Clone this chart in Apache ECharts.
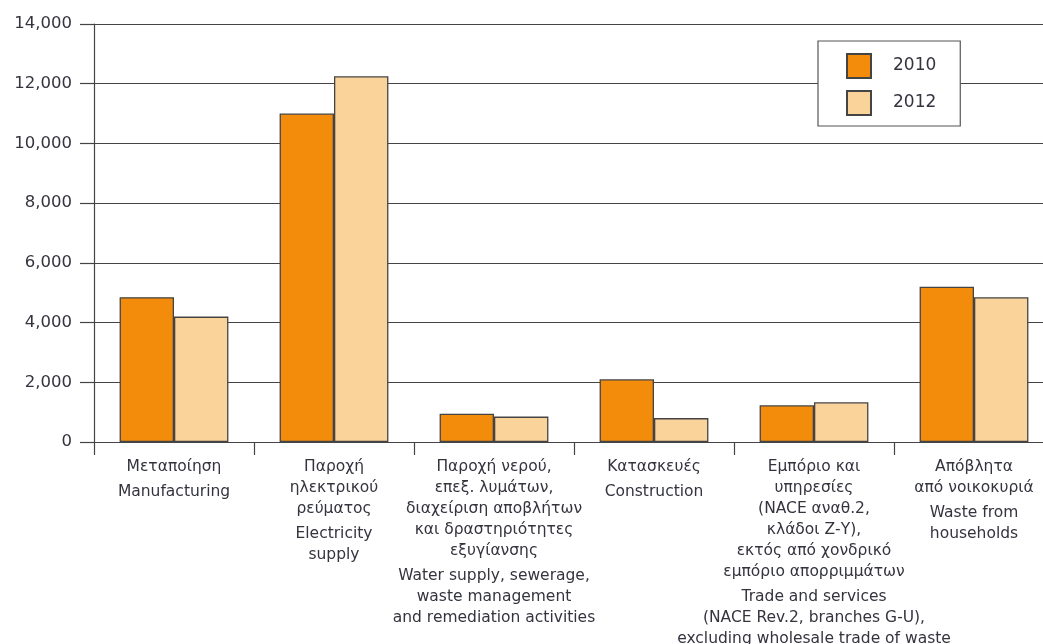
<!DOCTYPE html>
<html>
<head>
<meta charset="utf-8">
<script src="https://cdn.jsdelivr.net/npm/echarts@6/dist/echarts.min.js"></script>
<style>
    html, body { margin: 0; padding: 0; background: #fff; }
    #show { width: 1043px; height: 644px; }
</style>
</head>
<body>
<div id="show"></div>
<script>
    // κατηγορίες (ελληνικά / αγγλικά)
    var catsEl = [
        'Μεταποίηση',
        'Παροχή\nηλεκτρικού\nρεύματος',
        'Παροχή νερού,\nεπεξ. λυμάτων,\nδιαχείριση αποβλήτων\nκαι δραστηριότητες\nεξυγίανσης',
        'Κατασκευές',
        'Εμπόριο και\nυπηρεσίες\n(NACE αναθ.2,\nκλάδοι Ζ-Υ),\nεκτός από χονδρικό\nεμπόριο απορριμμάτων',
        'Απόβλητα\nαπό νοικοκυριά'
    ];
    var catsEn = [
        'Manufacturing',
        'Electricity\nsupply',
        'Water supply, sewerage,\nwaste management\nand remediation activities',
        'Construction',
        'Trade and services\n(NACE Rev.2, branches G-U),\nexcluding wholesale trade of waste',
        'Waste from\nhouseholds'
    ];
    var v2010 = [4850, 11000, 950, 2100, 1230, 5200];
    var v2012 = [4200, 12250, 850, 800, 1330, 4850];

    var txt = '#34343f';
    var myChart = echarts.init(document.getElementById('show'));

    var option = {
        animation: false,
        textStyle: { fontFamily: 'DejaVu Sans, sans-serif' },
        grid: { left: 94, top: 24, width: 960, bottom: 202, containLabel: false, outerBoundsMode: 'none' },
        legend: {
            orient: 'vertical',
            left: 818,
            top: 41,
            padding: [12, 24, 10, 28],
            itemWidth: 24,
            itemHeight: 24,
            itemGap: 11,
            backgroundColor: '#fff',
            borderColor: '#555',
            borderWidth: 1.2,
            icon: 'rect',
            textStyle: { fontSize: 17, color: txt, padding: [0, 0, 0, 17] },
            data: ['2010', '2012']
        },
        xAxis: {
            type: 'category',
            data: catsEn,
            axisLine: { lineStyle: { color: '#444', width: 1.2 } },
            axisTick: { show: true, length: 13, lineStyle: { color: '#444', width: 1.2 } },
            axisLabel: {
                interval: 0,
                margin: 14,
                color: txt,
                formatter: function (value, idx) {
                    return '{a|' + catsEl[idx] + '}\n{g| }\n{a|' + catsEn[idx] + '}';
                },
                rich: {
                    a: { fontSize: 15.5, lineHeight: 21, color: txt, align: 'center' },
                    g: { fontSize: 4, lineHeight: 4 }
                }
            }
        },
        yAxis: {
            type: 'value',
            min: 0,
            max: 14000,
            interval: 2000,
            axisLine: { show: true, lineStyle: { color: '#444', width: 1.2 } },
            axisTick: { show: true, length: 14, lineStyle: { color: '#444', width: 1.2 } },
            splitLine: { lineStyle: { color: '#444', width: 1.2 } },
            axisLabel: {
                margin: 22,
                fontSize: 16.5,
                color: txt,
                formatter: function (v) { return v.toLocaleString('en-US'); }
            }
        },
        series: [
            {
                name: '2010',
                type: 'bar',
                barGap: '0%',
                barCategoryGap: '32%',
                data: v2010,
                itemStyle: { color: '#f28c0a', borderColor: '#444', borderWidth: 1.3 }
            },
            {
                name: '2012',
                type: 'bar',
                barGap: '0%',
                barCategoryGap: '32%',
                data: v2012,
                itemStyle: { color: '#fad39b', borderColor: '#444', borderWidth: 1.3 }
            }
        ]
    };
    myChart.setOption(option);
</script>
</body>
</html>
